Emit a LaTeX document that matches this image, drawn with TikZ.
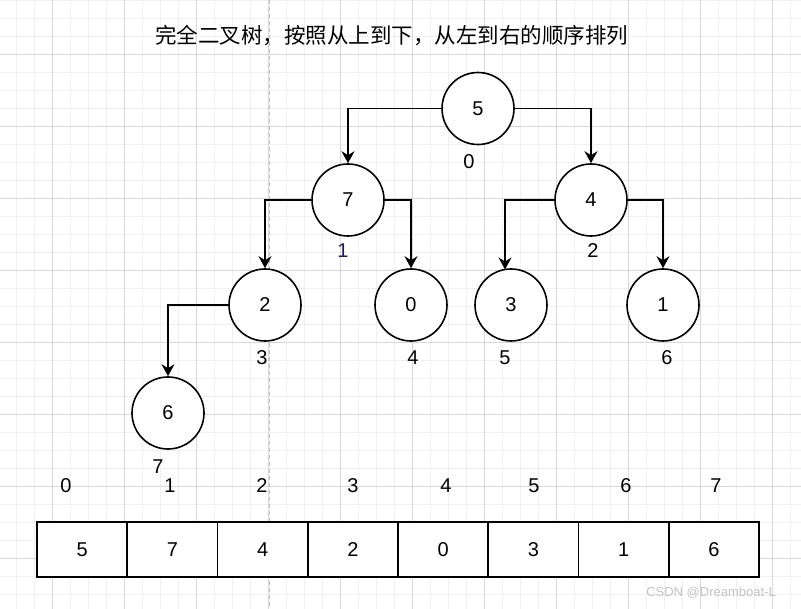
\documentclass[tikz,border=0pt]{standalone}
\usepackage{fontspec}
\setmainfont{Liberation Sans}
\newfontfamily\cjk{Noto Sans CJK SC}
\usetikzlibrary{arrows.meta}
\definecolor{minorgrid}{HTML}{F0F0F0}
\definecolor{majorgrid}{HTML}{D8D8D8}
\definecolor{pagebreak}{HTML}{C0C0C0}
\definecolor{idxblue}{HTML}{1C1C5C}
\definecolor{wmark}{HTML}{C4C4C4}
\tikzset{
  mingrid/.style={draw=minorgrid, line width=0.8pt},
  majgrid/.style={draw=majorgrid, line width=0.8pt},
  treenode/.style={circle, draw=black, fill=white, line width=1.6pt, minimum size=72pt, inner sep=0pt, font=\fontsize{20}{24}\selectfont},
  idx/.style={font=\fontsize{20}{24}\selectfont, inner sep=0pt},
  edge/.style={draw=black, line width=1.6pt, -{Stealth[length=12pt, width=13pt, inset=4pt]}},
  cell/.style={draw=black, fill=white, line width=1.6pt, minimum width=90.25pt, minimum height=55pt, inner sep=0pt, font=\fontsize{20}{24}\selectfont}
}
\begin{document}
\begin{tikzpicture}[x=1pt, y=-1pt]
\useasboundingbox (0,0) rectangle (801,609);
\fill[white] (0,0) rectangle (801,609);
% grid
\foreach \x in {16,34,...,800} \draw[mingrid] (\x,0) -- (\x,609);
\foreach \y in {0,18,...,608} \draw[mingrid] (0,\y) -- (801,\y);
\foreach \x in {52,124,...,800} \draw[majgrid] (\x,0) -- (\x,609);
\foreach \y in {54,126,...,608} \draw[majgrid] (0,\y) -- (801,\y);
% page break line
\draw[pagebreak, line width=1pt, dash pattern=on 4pt off 3pt] (269.5,0) -- (269.5,609);

% title
\node[font=\cjk\fontsize{21.5}{24}\selectfont, inner sep=0pt] (title) at (391.5,36) {完全二叉树，按照从上到下，从左到右的顺序排列};

% tree nodes
\node[treenode] (n5) at (478,108.5) {5};
\node[treenode] (n7) at (348,200) {7};
\node[treenode] (n4) at (591,200) {4};
\node[treenode] (n2) at (265,305) {2};
\node[treenode] (n0) at (411,305) {0};
\node[treenode] (n3) at (511,305) {3};
\node[treenode] (n1) at (663,305) {1};
\node[treenode] (n6) at (168,413) {6};
\coordinate (c3) at (505,269.5);

% edges
\draw[edge] (n5.west) -| (n7.north);
\draw[edge] (n5.east) -| (n4.north);
\draw[edge] (n7.west) -| (n2.north);
\draw[edge] (n7.east) -| (n0.north);
\draw[edge] (n4.west) -| (c3);
\draw[edge] (n4.east) -| (n1.north);
\draw[edge] (n2.west) -| (n6.north);

% tree index labels
\node[idx] (l0) at (469,162) {0};
\node[idx, text=idxblue] (l1) at (343,251) {1};
\node[idx] (l2) at (593,251) {2};
\node[idx] (l3) at (262,358) {3};
\node[idx] (l4) at (413,358) {4};
\node[idx] (l5) at (505,358) {5};
\node[idx] (l6) at (667,358) {6};
\node[idx] (l7) at (158,467) {7};

% array indices
\node[idx] (i0) at (66,486) {0};
\node[idx] (i1) at (170,486) {1};
\node[idx] (i2) at (262,486) {2};
\node[idx] (i3) at (353,486) {3};
\node[idx] (i4) at (446,486) {4};
\node[idx] (i5) at (534,486) {5};
\node[idx] (i6) at (626,486) {6};
\node[idx] (i7) at (716,486) {7};

% array cells
\node[cell] (a0) at (82.125,549.5) {5};
\node[cell] (a1) at (172.375,549.5) {7};
\node[cell] (a2) at (262.625,549.5) {4};
\node[cell] (a3) at (352.875,549.5) {2};
\node[cell] (a4) at (443.125,549.5) {0};
\node[cell] (a5) at (533.375,549.5) {3};
\node[cell] (a6) at (623.625,549.5) {1};
\node[cell] (a7) at (713.875,549.5) {6};

% watermark
\node[text=wmark, font=\fontsize{13}{15}\selectfont, inner sep=0pt] (wm) at (711,593) {CSDN @Dreamboat-L};
\end{tikzpicture}
\end{document}
